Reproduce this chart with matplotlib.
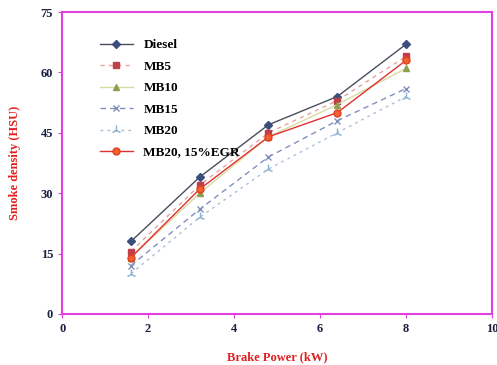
import matplotlib

matplotlib.use("Agg")
import matplotlib.pyplot as plt

plt.rcParams["font.family"] = ["Liberation Serif", "DejaVu Serif"]

power = [1.6, 3.2, 4.8, 6.4, 8.0]
diesel = [18, 34, 47, 54, 67]
mb5 = [15.5, 32, 45, 53, 64]
mb10 = [14, 30, 44, 52, 61]
mb15 = [12, 26, 39, 48, 56]
mb20 = [10, 24, 36, 45, 54]
mb20_egr = [14, 31, 44, 50, 63]

fig = plt.figure(figsize=(4.97, 3.65), dpi=100)
ax = fig.add_axes([0.125, 0.14, 0.865, 0.827])

ax.plot(power, diesel, color="#4a4e5c", lw=1, marker="D", ms=4,
        mfc="#3c4f7c", mec="#3c4f7c", label="Diesel")
ax.plot(power, mb5, color="#e8a0a0", lw=1, ls=(0, (3, 3)), marker="s", ms=5,
        mfc="#c0404a", mec="#c0404a", label="MB5")
ax.plot(power, mb10, color="#d8dca0", lw=1, marker="^", ms=5,
        mfc="#8da050", mec="#8da050", label="MB10")
ax.plot(power, mb15, color="#8090c0", lw=1, ls=(0, (4, 3)), marker="x", ms=5,
        mec="#8090b8", label="MB15")
ax.plot(power, mb20, color="#a8c0d8", lw=1, ls=(0, (2, 3)), marker="2", ms=7,
        mec="#88b0d0", label="MB20")
ax.plot(power, mb20_egr, color="#e03030", lw=1, marker="o", ms=5,
        mfc="#f06030", mec="#e04020", label="MB20, 15%EGR")

ax.set_xlim(0, 10)
ax.set_ylim(0, 75)
ax.set_xticks([0, 2, 4, 6, 8, 10])
ax.set_yticks([0, 15, 30, 45, 60, 75])
for s in ax.spines.values():
    s.set_color("#e040e0")
    s.set_linewidth(1.5)
ax.tick_params(colors="#e040e0", labelcolor="#1a2040", length=3, labelsize=9)
for t in ax.get_xticklabels() + ax.get_yticklabels():
    t.set_fontweight("bold")

ax.set_xlabel("Brake Power (kW)", color="#e02020", fontweight="bold",
              fontsize=9, labelpad=12)
ax.set_ylabel("Smoke density (HSU)", color="#e02020", fontweight="bold",
              fontsize=9, labelpad=14)

leg = ax.legend(loc="upper left", bbox_to_anchor=(0.06, 0.95), frameon=False,
                prop={"weight": "bold", "size": 9.5}, handlelength=2.5,
                labelspacing=0.7)

fig.savefig("out.png", dpi=100)
